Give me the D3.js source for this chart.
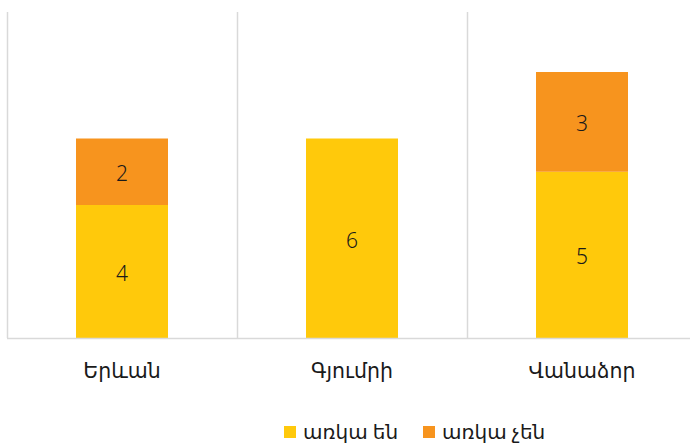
<!DOCTYPE html>
<html>
<head>
<meta charset="utf-8">
<script src="https://cdn.jsdelivr.net/npm/d3@7"></script>
<style>
  body { margin: 0; background: #fff; }
  svg { display: block; font-family: "Noto Sans", "DejaVu Sans", sans-serif; }
</style>
</head>
<body>
<div id="chart"></div>
<script>
const cities = ["Երևան", "Գյումրի", "Վանաձոր"];
const seriesNames = ["առկա են", "առկա չեն"];
const present = [4, 6, 5];
const absent = [2, 0, 3];
const colors = ["#FFC90B", "#F7941E"];

const width = 690, height = 446;
const plotLeft = 7, plotTop = 12, baseY = 338;

const svg = d3.select("#chart").append("svg")
    .attr("width", width)
    .attr("height", height);

const x = d3.scaleBand()
    .domain(cities)
    .range([plotLeft, plotLeft + 3 * 230])
    .paddingInner(0)
    .paddingOuter(0);

const y = d3.scaleLinear()
    .domain([0, 10])
    .range([baseY, baseY - 332.5]);

const rows = cities.map((c, i) => ({ city: c, present: present[i], absent: absent[i] }));
const stacked = d3.stack().keys(["present", "absent"])(rows);

// vertical category separators
const bounds = cities.map(c => x(c));
svg.append("g")
    .selectAll("line")
    .data(bounds)
    .enter()
    .append("line")
    .attr("x1", d => d + 0.5)
    .attr("x2", d => d + 0.5)
    .attr("y1", plotTop)
    .attr("y2", baseY)
    .style("stroke", "#d9d9d9")
    .style("stroke-width", "1.5px");

const barW = x.bandwidth() * 0.4;

const layers = svg.append("g")
    .selectAll("g")
    .data(stacked)
    .enter()
    .append("g")
    .attr("fill", (d, i) => colors[i]);

layers.selectAll("rect")
    .data(d => d.filter(p => p[1] - p[0] > 0))
    .enter()
    .append("rect")
    .attr("x", d => x(d.data.city) + (x.bandwidth() - barW) / 2)
    .attr("y", d => y(d[1]))
    .attr("width", barW)
    .attr("height", d => y(d[0]) - y(d[1]));

layers.selectAll("text")
    .data(d => d.filter(p => p[1] - p[0] > 0))
    .enter()
    .append("text")
    .attr("x", d => x(d.data.city) + x.bandwidth() / 2)
    .attr("y", d => (y(d[0]) + y(d[1])) / 2)
    .attr("dy", "0.45em")
    .attr("text-anchor", "middle")
    .style("font-size", "21px")
    .style("font-weight", "300")
    .style("fill", "#1a1a1a")
    .text(d => d[1] - d[0]);

// baseline
svg.append("line")
    .attr("x1", plotLeft)
    .attr("x2", width)
    .attr("y1", baseY + 0.5)
    .attr("y2", baseY + 0.5)
    .style("stroke", "#d9d9d9")
    .style("stroke-width", "1.5px");

// category labels
svg.append("g")
    .selectAll("text")
    .data(cities)
    .enter()
    .append("text")
    .attr("x", d => x(d) + x.bandwidth() / 2)
    .attr("y", 378)
    .attr("text-anchor", "middle")
    .style("font-size", "20.5px")
    .style("fill", "#1a1a1a")
    .text(d => d);

// legend
const legendX = [284, 423];
const legend = svg.append("g")
    .selectAll("g")
    .data(seriesNames)
    .enter()
    .append("g")
    .attr("transform", (d, i) => `translate(${legendX[i]},426)`);

legend.append("rect")
    .attr("width", 12)
    .attr("height", 12)
    .attr("fill", (d, i) => colors[i]);

legend.append("text")
    .attr("x", 19)
    .attr("y", 6)
    .attr("dy", "0.36em")
    .style("font-size", "20px")
    .style("fill", "#1a1a1a")
    .text(d => d);
</script>
</body>
</html>
